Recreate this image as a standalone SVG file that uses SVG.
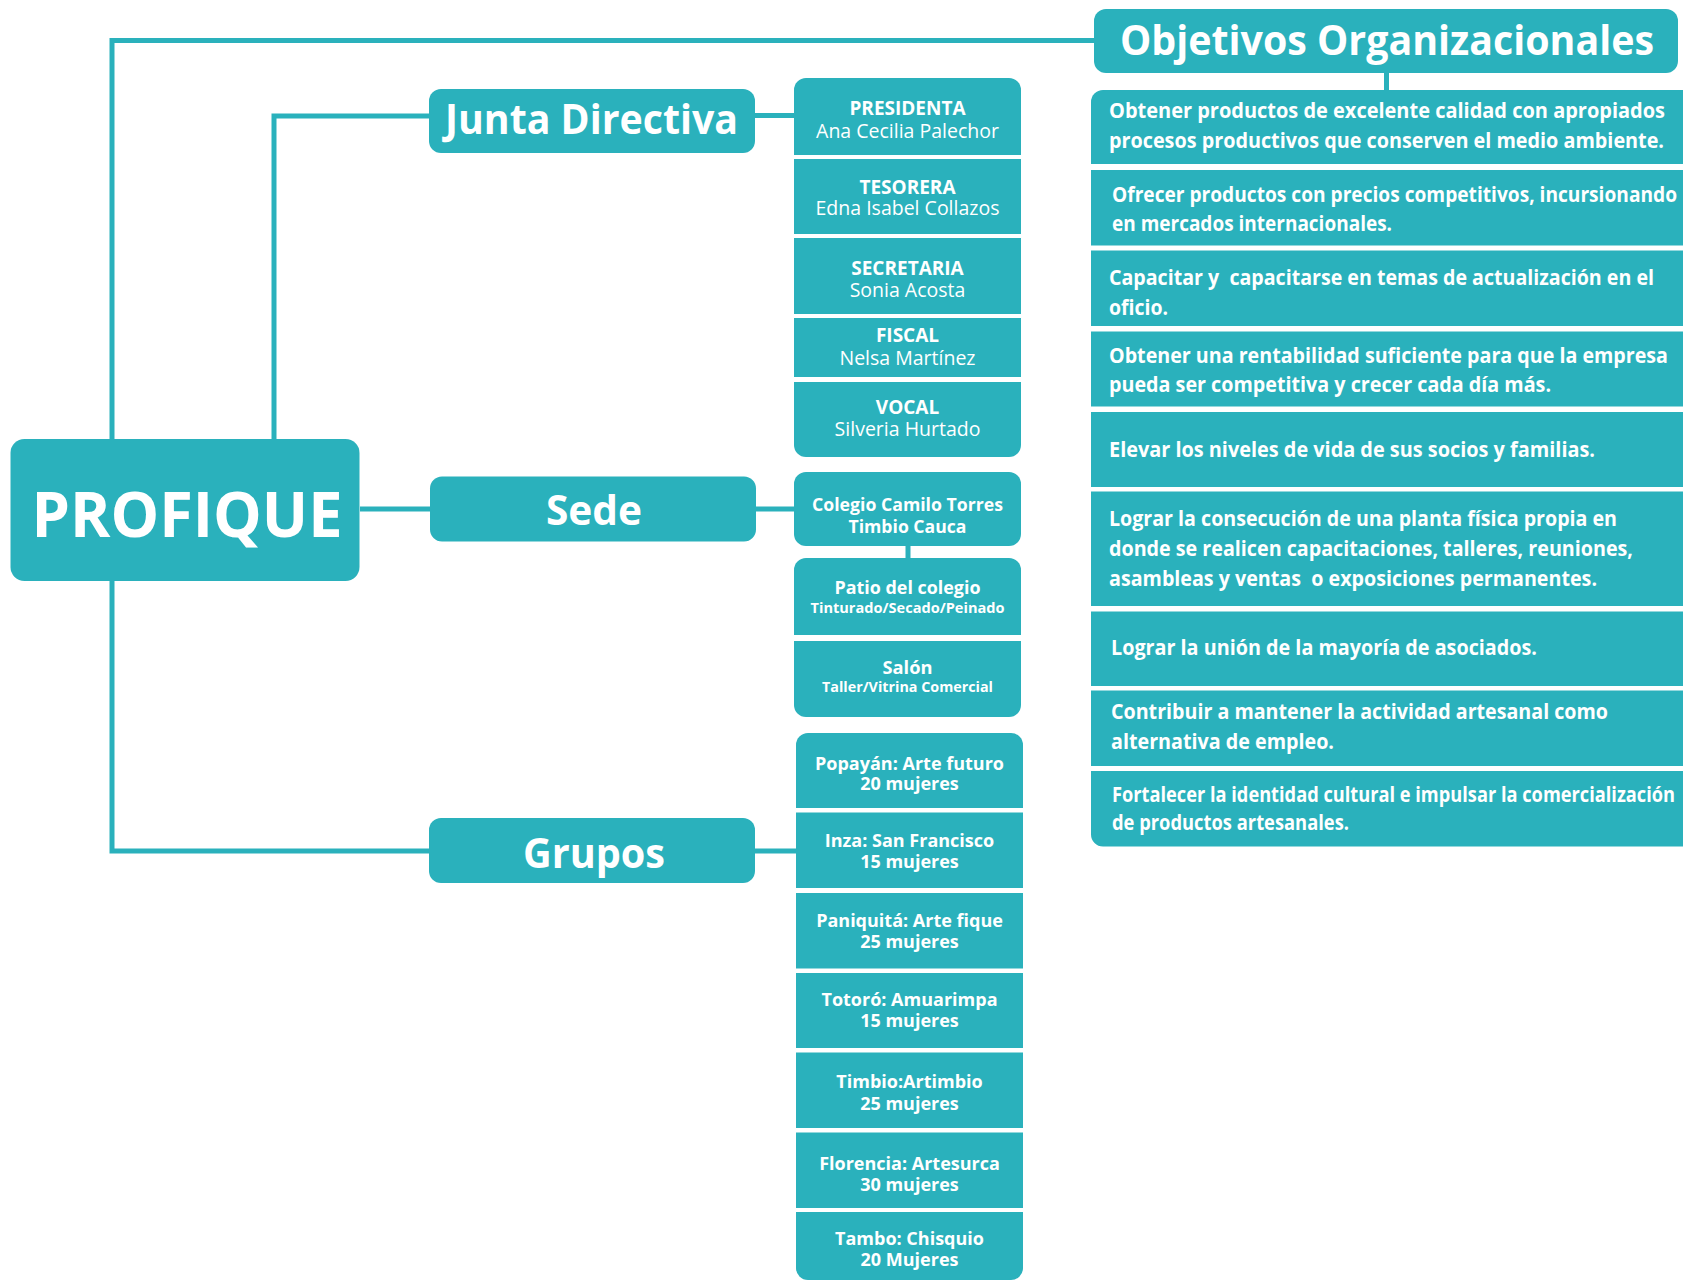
<svg xmlns="http://www.w3.org/2000/svg" width="1683" height="1281" viewBox="0 0 1683 1281">
<style>
.box{fill:#2AB1BC}
.ln{fill:none;stroke:#2AB1BC;stroke-width:5}
text{fill:#FFFFFF;font-family:"Open Sans","Liberation Sans",sans-serif}
.big{font-weight:700;font-size:42px;text-anchor:middle}
.role{font-weight:700;font-size:19px;text-anchor:middle}
.name{font-weight:400;font-size:19.5px;text-anchor:middle}
.lbl{font-weight:700;font-size:18px;text-anchor:middle}
.sm{font-weight:700;font-size:14px;text-anchor:middle}
.obj{font-weight:700;font-size:22px}
</style>
<rect width="1683" height="1281" fill="#FFFFFF"/>
<g id="connectors">
<path class="ln" d="M112,439 V40.5 H1094"/>
<path class="ln" d="M274,439 V116 H429"/>
<path class="ln" d="M755,115.5 H794"/>
<path class="ln" d="M360,509 H430"/>
<path class="ln" d="M756,509 H794"/>
<path class="ln" d="M908,546 V558"/>
<path class="ln" d="M112,581 V851 H429"/>
<path class="ln" d="M755,851 H796"/>
<path class="ln" d="M1386.5,73 V90"/>
</g>
<g id="profique">
<rect class="box" x="10.5" y="439" width="349" height="142" rx="14"/>
<text x="187" y="537" style="font-weight:700;font-size:63px;text-anchor:middle" textLength="311" lengthAdjust="spacingAndGlyphs">PROFIQUE</text>
</g>
<g id="junta">
<rect class="box" x="429" y="89" width="326" height="64" rx="12"/>
<text class="big" x="591.5" y="134" textLength="293" lengthAdjust="spacingAndGlyphs">Junta Directiva</text>
</g>
<g id="sede">
<rect class="box" x="430" y="476.5" width="326" height="65" rx="12"/>
<text class="big" x="594" y="525" textLength="96" lengthAdjust="spacingAndGlyphs">Sede</text>
</g>
<g id="grupos">
<rect class="box" x="429" y="818" width="326" height="65" rx="12"/>
<text class="big" x="594" y="868" textLength="142" lengthAdjust="spacingAndGlyphs">Grupos</text>
</g>
<g id="objetivos">
<rect class="box" x="1094" y="9" width="584" height="64" rx="12"/>
<text class="big" x="1387" y="54.5" textLength="534" lengthAdjust="spacingAndGlyphs">Objetivos Organizacionales</text>
</g>
<g id="presidenta">
<path class="box" d="M794,155 V90 A12,12 0 0 1 806,78 H1009 A12,12 0 0 1 1021,90 V155 Z"/>
<text class="role" x="907.5" y="115">PRESIDENTA</text>
<text class="name" x="907.5" y="138">Ana Cecilia Palechor</text>
</g>
<g id="tesorera">
<rect class="box" x="794" y="159" width="227" height="75"/>
<text class="role" x="907.5" y="194">TESORERA</text>
<text class="name" x="907.5" y="214.5">Edna Isabel Collazos</text>
</g>
<g id="secretaria">
<rect class="box" x="794" y="238" width="227" height="76"/>
<text class="role" x="907.5" y="274.5">SECRETARIA</text>
<text class="name" x="907.5" y="297">Sonia Acosta</text>
</g>
<g id="fiscal">
<rect class="box" x="794" y="318" width="227" height="59"/>
<text class="role" x="907.5" y="342">FISCAL</text>
<text class="name" x="907.5" y="365">Nelsa Martínez</text>
</g>
<g id="vocal">
<path class="box" d="M794,382 H1021 V445 A12,12 0 0 1 1009,457 H806 A12,12 0 0 1 794,445 Z"/>
<text class="role" x="907.5" y="414">VOCAL</text>
<text class="name" x="907.5" y="436">Silveria Hurtado</text>
</g>
<g id="colegio">
<rect class="box" x="794" y="472" width="227" height="74" rx="12"/>
<text class="lbl" x="907.5" y="511" textLength="191" lengthAdjust="spacingAndGlyphs">Colegio Camilo Torres</text>
<text class="lbl" x="907.5" y="532.5" textLength="118" lengthAdjust="spacingAndGlyphs">Timbio Cauca</text>
</g>
<g id="patio">
<path class="box" d="M794,635 V570 A12,12 0 0 1 806,558 H1009 A12,12 0 0 1 1021,570 V635 Z"/>
<text class="lbl" x="907.5" y="594" textLength="146" lengthAdjust="spacingAndGlyphs">Patio del colegio</text>
<text class="sm" x="907.5" y="612.5" textLength="194" lengthAdjust="spacingAndGlyphs">Tinturado/Secado/Peinado</text>
</g>
<g id="salon">
<path class="box" d="M794,641 H1021 V705 A12,12 0 0 1 1009,717 H806 A12,12 0 0 1 794,705 Z"/>
<text class="lbl" x="907.5" y="673.5" textLength="50" lengthAdjust="spacingAndGlyphs">Salón</text>
<text class="sm" x="907.5" y="691.5" textLength="171" lengthAdjust="spacingAndGlyphs">Taller/Vitrina Comercial</text>
</g>
<g id="popayan">
<path class="box" d="M796,808 V745 A12,12 0 0 1 808,733 H1011 A12,12 0 0 1 1023,745 V808 Z"/>
<text class="lbl" x="909.5" y="769.5">Popayán: Arte futuro</text>
<text class="lbl" x="909.5" y="790">20 mujeres</text>
</g>
<g id="inza">
<rect class="box" x="796" y="812.5" width="227" height="75.5"/>
<text class="lbl" x="909.5" y="847">Inza: San Francisco</text>
<text class="lbl" x="909.5" y="868">15 mujeres</text>
</g>
<g id="paniquita">
<rect class="box" x="796" y="893" width="227" height="75.5"/>
<text class="lbl" x="909.5" y="927">Paniquitá: Arte fique</text>
<text class="lbl" x="909.5" y="948">25 mujeres</text>
</g>
<g id="totoro">
<rect class="box" x="796" y="973" width="227" height="75"/>
<text class="lbl" x="909.5" y="1006">Totoró: Amuarimpa</text>
<text class="lbl" x="909.5" y="1027">15 mujeres</text>
</g>
<g id="timbio">
<rect class="box" x="796" y="1052.5" width="227" height="75.5"/>
<text class="lbl" x="909.5" y="1088">Timbio:Artimbio</text>
<text class="lbl" x="909.5" y="1109.5">25 mujeres</text>
</g>
<g id="florencia">
<rect class="box" x="796" y="1132.5" width="227" height="75.5"/>
<text class="lbl" x="909.5" y="1169.5">Florencia: Artesurca</text>
<text class="lbl" x="909.5" y="1191">30 mujeres</text>
</g>
<g id="tambo">
<path class="box" d="M796,1212 H1023 V1268 A12,12 0 0 1 1011,1280 H808 A12,12 0 0 1 796,1268 Z"/>
<text class="lbl" x="909.5" y="1244.5">Tambo: Chisquio</text>
<text class="lbl" x="909.5" y="1265.5">20 Mujeres</text>
</g>
<g id="obj1">
<path class="box" d="M1091,164 V102 A12,12 0 0 1 1103,90 H1700 V164 Z"/>
<text class="obj" x="1109" y="118" textLength="556" lengthAdjust="spacingAndGlyphs">Obtener productos de excelente calidad con apropiados</text>
<text class="obj" x="1109" y="148" textLength="555" lengthAdjust="spacingAndGlyphs">procesos productivos que conserven el medio ambiente.</text>
</g>
<g id="obj2">
<rect class="box" x="1091" y="170" width="609" height="75.5"/>
<text class="obj" x="1112" y="201.5" textLength="565" lengthAdjust="spacingAndGlyphs">Ofrecer productos con precios competitivos, incursionando</text>
<text class="obj" x="1112" y="230.5" textLength="280" lengthAdjust="spacingAndGlyphs">en mercados internacionales.</text>
</g>
<g id="obj3">
<rect class="box" x="1091" y="250.5" width="609" height="75.5"/>
<text class="obj" x="1109" y="285" textLength="545" lengthAdjust="spacingAndGlyphs" style="white-space:pre">Capacitar y  capacitarse en temas de actualización en el</text>
<text class="obj" x="1109" y="315" textLength="59" lengthAdjust="spacingAndGlyphs">oficio.</text>
</g>
<g id="obj4">
<rect class="box" x="1091" y="331.5" width="609" height="75"/>
<text class="obj" x="1109" y="362.5" textLength="559" lengthAdjust="spacingAndGlyphs">Obtener una rentabilidad suficiente para que la empresa</text>
<text class="obj" x="1109" y="391.5" textLength="442" lengthAdjust="spacingAndGlyphs">pueda ser competitiva y crecer cada día más.</text>
</g>
<g id="obj5">
<rect class="box" x="1091" y="412" width="609" height="75"/>
<text class="obj" x="1109" y="456.5" textLength="486" lengthAdjust="spacingAndGlyphs">Elevar los niveles de vida de sus socios y familias.</text>
</g>
<g id="obj6">
<rect class="box" x="1091" y="491.5" width="609" height="114.5"/>
<text class="obj" x="1109" y="526" textLength="508" lengthAdjust="spacingAndGlyphs">Lograr la consecución de una planta física propia en</text>
<text class="obj" x="1109" y="556" textLength="524" lengthAdjust="spacingAndGlyphs">donde se realicen capacitaciones, talleres, reuniones,</text>
<text class="obj" x="1109" y="586" textLength="488" lengthAdjust="spacingAndGlyphs" style="white-space:pre">asambleas y ventas  o exposiciones permanentes.</text>
</g>
<g id="obj7">
<rect class="box" x="1091" y="611.5" width="609" height="74.5"/>
<text class="obj" x="1111" y="655" textLength="426" lengthAdjust="spacingAndGlyphs">Lograr la unión de la mayoría de asociados.</text>
</g>
<g id="obj8">
<rect class="box" x="1091" y="690.5" width="609" height="75.5"/>
<text class="obj" x="1111" y="719" textLength="497" lengthAdjust="spacingAndGlyphs">Contribuir a mantener la actividad artesanal como</text>
<text class="obj" x="1111" y="749" textLength="223" lengthAdjust="spacingAndGlyphs">alternativa de empleo.</text>
</g>
<g id="obj9">
<path class="box" d="M1091,771 H1700 V846.5 H1103 A12,12 0 0 1 1091,834.5 Z"/>
<text class="obj" x="1112" y="801.5" textLength="563" lengthAdjust="spacingAndGlyphs">Fortalecer la identidad cultural e impulsar la comercialización</text>
<text class="obj" x="1112" y="829.5" textLength="237" lengthAdjust="spacingAndGlyphs">de productos artesanales.</text>
</g>
</svg>
